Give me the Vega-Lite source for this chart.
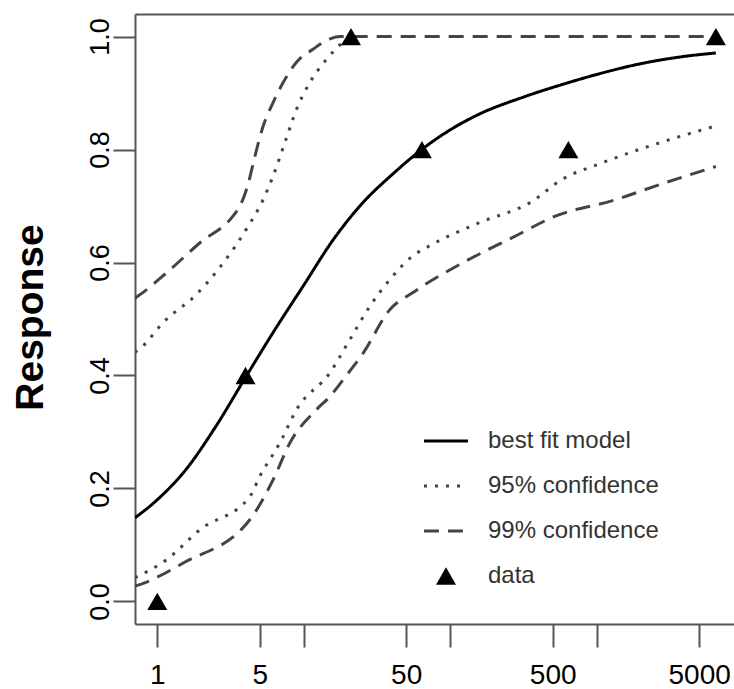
{
  "$schema": "https://vega.github.io/schema/vega-lite/v6.json",
  "width": 599,
  "height": 610,
  "autosize": {"type": "none"},
  "padding": {"left": 135, "top": 14, "right": 0, "bottom": 65},
  "background": "white",
  "config": {"view": {"stroke": null}, "font": "Liberation Sans"},
  "datasets": {
    "curves": [
      {"curve": "fit", "band": "best fit model", "x": 0.7045, "y": 0.148},
      {"curve": "fit", "band": "best fit model", "x": 1, "y": 0.18},
      {"curve": "fit", "band": "best fit model", "x": 1.585, "y": 0.235},
      {"curve": "fit", "band": "best fit model", "x": 2.512, "y": 0.31},
      {"curve": "fit", "band": "best fit model", "x": 4.074, "y": 0.4},
      {"curve": "fit", "band": "best fit model", "x": 6.31, "y": 0.48},
      {"curve": "fit", "band": "best fit model", "x": 10, "y": 0.56},
      {"curve": "fit", "band": "best fit model", "x": 15.85, "y": 0.64},
      {"curve": "fit", "band": "best fit model", "x": 25.12, "y": 0.705},
      {"curve": "fit", "band": "best fit model", "x": 39.81, "y": 0.755},
      {"curve": "fit", "band": "best fit model", "x": 63.8, "y": 0.8},
      {"curve": "fit", "band": "best fit model", "x": 100, "y": 0.835},
      {"curve": "fit", "band": "best fit model", "x": 158.5, "y": 0.863},
      {"curve": "fit", "band": "best fit model", "x": 316.2, "y": 0.893},
      {"curve": "fit", "band": "best fit model", "x": 631, "y": 0.918},
      {"curve": "fit", "band": "best fit model", "x": 1000, "y": 0.933},
      {"curve": "fit", "band": "best fit model", "x": 1995, "y": 0.952},
      {"curve": "fit", "band": "best fit model", "x": 3981, "y": 0.965},
      {"curve": "fit", "band": "best fit model", "x": 6500, "y": 0.971},

      {"curve": "u95", "band": "95% confidence", "x": 0.7045, "y": 0.441},
      {"curve": "u95", "band": "95% confidence", "x": 0.782, "y": 0.45},
      {"curve": "u95", "band": "95% confidence", "x": 1.099, "y": 0.494},
      {"curve": "u95", "band": "95% confidence", "x": 1.857, "y": 0.544},
      {"curve": "u95", "band": "95% confidence", "x": 2.609, "y": 0.588},
      {"curve": "u95", "band": "95% confidence", "x": 4.076, "y": 0.66},
      {"curve": "u95", "band": "95% confidence", "x": 5.291, "y": 0.712},
      {"curve": "u95", "band": "95% confidence", "x": 6.193, "y": 0.754},
      {"curve": "u95", "band": "95% confidence", "x": 7.443, "y": 0.813},
      {"curve": "u95", "band": "95% confidence", "x": 8.944, "y": 0.872},
      {"curve": "u95", "band": "95% confidence", "x": 11.02, "y": 0.919},
      {"curve": "u95", "band": "95% confidence", "x": 14.33, "y": 0.96},
      {"curve": "u95", "band": "95% confidence", "x": 18.61, "y": 0.99},
      {"curve": "u95", "band": "95% confidence", "x": 22.36, "y": 1.0},
      {"curve": "u95", "band": "95% confidence", "x": 25, "y": 1.0},

      {"curve": "l95", "band": "95% confidence", "x": 0.7045, "y": 0.042},
      {"curve": "l95", "band": "95% confidence", "x": 1.159, "y": 0.074},
      {"curve": "l95", "band": "95% confidence", "x": 1.956, "y": 0.127},
      {"curve": "l95", "band": "95% confidence", "x": 4.294, "y": 0.186},
      {"curve": "l95", "band": "95% confidence", "x": 5.023, "y": 0.222},
      {"curve": "l95", "band": "95% confidence", "x": 6.879, "y": 0.281},
      {"curve": "l95", "band": "95% confidence", "x": 8.944, "y": 0.34},
      {"curve": "l95", "band": "95% confidence", "x": 15.1, "y": 0.405},
      {"curve": "l95", "band": "95% confidence", "x": 20.68, "y": 0.464},
      {"curve": "l95", "band": "95% confidence", "x": 28.31, "y": 0.523},
      {"curve": "l95", "band": "95% confidence", "x": 38.76, "y": 0.57},
      {"curve": "l95", "band": "95% confidence", "x": 55.65, "y": 0.612},
      {"curve": "l95", "band": "95% confidence", "x": 72.67, "y": 0.63},
      {"curve": "l95", "band": "95% confidence", "x": 159.5, "y": 0.671},
      {"curve": "l95", "band": "95% confidence", "x": 349.9, "y": 0.706},
      {"curve": "l95", "band": "95% confidence", "x": 588, "y": 0.748},
      {"curve": "l95", "band": "95% confidence", "x": 1051, "y": 0.775},
      {"curve": "l95", "band": "95% confidence", "x": 6500, "y": 0.842},

      {"curve": "u99", "band": "99% confidence", "x": 0.7045, "y": 0.537},
      {"curve": "u99", "band": "99% confidence", "x": 0.742, "y": 0.541},
      {"curve": "u99", "band": "99% confidence", "x": 1.159, "y": 0.582},
      {"curve": "u99", "band": "99% confidence", "x": 1.956, "y": 0.635},
      {"curve": "u99", "band": "99% confidence", "x": 3.303, "y": 0.683},
      {"curve": "u99", "band": "99% confidence", "x": 3.668, "y": 0.7},
      {"curve": "u99", "band": "99% confidence", "x": 4.18, "y": 0.74},
      {"curve": "u99", "band": "99% confidence", "x": 4.645, "y": 0.789},
      {"curve": "u99", "band": "99% confidence", "x": 5.291, "y": 0.842},
      {"curve": "u99", "band": "99% confidence", "x": 6.193, "y": 0.884},
      {"curve": "u99", "band": "99% confidence", "x": 7.247, "y": 0.919},
      {"curve": "u99", "band": "99% confidence", "x": 8.944, "y": 0.955},
      {"curve": "u99", "band": "99% confidence", "x": 11.61, "y": 0.978},
      {"curve": "u99", "band": "99% confidence", "x": 15.1, "y": 0.996},
      {"curve": "u99", "band": "99% confidence", "x": 17.66, "y": 1.0},
      {"curve": "u99", "band": "99% confidence", "x": 6500, "y": 1.0},

      {"curve": "l99", "band": "99% confidence", "x": 0.7045, "y": 0.027},
      {"curve": "l99", "band": "99% confidence", "x": 0.802, "y": 0.032},
      {"curve": "l99", "band": "99% confidence", "x": 1.504, "y": 0.068},
      {"curve": "l99", "band": "99% confidence", "x": 4.294, "y": 0.145},
      {"curve": "l99", "band": "99% confidence", "x": 6.193, "y": 0.216},
      {"curve": "l99", "band": "99% confidence", "x": 8.05, "y": 0.281},
      {"curve": "l99", "band": "99% confidence", "x": 12.25, "y": 0.34},
      {"curve": "l99", "band": "99% confidence", "x": 15.1, "y": 0.363},
      {"curve": "l99", "band": "99% confidence", "x": 18.61, "y": 0.393},
      {"curve": "l99", "band": "99% confidence", "x": 25.48, "y": 0.44},
      {"curve": "l99", "band": "99% confidence", "x": 38.76, "y": 0.517},
      {"curve": "l99", "band": "99% confidence", "x": 55.65, "y": 0.547},
      {"curve": "l99", "band": "99% confidence", "x": 122.7, "y": 0.6},
      {"curve": "l99", "band": "99% confidence", "x": 269.2, "y": 0.645},
      {"curve": "l99", "band": "99% confidence", "x": 532.4, "y": 0.683},
      {"curve": "l99", "band": "99% confidence", "x": 1296, "y": 0.71},
      {"curve": "l99", "band": "99% confidence", "x": 2831, "y": 0.74},
      {"curve": "l99", "band": "99% confidence", "x": 6500, "y": 0.77}
    ],
    "pts": [
      {"x": 1, "y": 0.0},
      {"x": 4, "y": 0.4},
      {"x": 21, "y": 1.0},
      {"x": 64, "y": 0.8},
      {"x": 640, "y": 0.8},
      {"x": 6500, "y": 1.0}
    ]
  },
  "layer": [
    {
      "data": {"name": "curves"},
      "mark": {"type": "line", "strokeWidth": 3, "clip": true, "interpolate": "monotone"},
      "encoding": {
        "x": {
          "field": "x", "type": "quantitative",
          "scale": {"type": "log", "domain": [0.7045, 8642], "nice": false},
          "axis": {
            "orient": "bottom", "title": null, "grid": false,
            "values": [1, 5, 10, 50, 100, 500, 1000, 5000],
            "labelExpr": "(datum.value == 10 || datum.value == 100 || datum.value == 1000) ? '' : format(datum.value, 'd')",
            "labelOverlap": false, "labelFlush": false,
            "labelFontSize": 28, "labelColor": "#000", "labelBaseline": "alphabetic", "labelPadding": 36,
            "tickSize": 23, "tickWidth": 2, "tickColor": "#555",
            "domainColor": "#555", "domainWidth": 2
          }
        },
        "y": {
          "field": "y", "type": "quantitative",
          "scale": {"domain": [-0.04, 1.04], "nice": false, "zero": false},
          "axis": {
            "grid": false,
            "values": [0, 0.2, 0.4, 0.6, 0.8, 1.0],
            "format": ".1f",
            "labelAngle": 270, "labelAlign": "center", "labelBaseline": "alphabetic",
            "labelFontSize": 27, "labelColor": "#000", "labelPadding": 5,
            "tickSize": 22, "tickWidth": 2, "tickColor": "#555",
            "domainColor": "#555", "domainWidth": 2,
            "title": "Response", "titleFontSize": 39, "titleFontWeight": "bold", "titleColor": "#000",
            "titleAngle": 270, "titleX": -93, "titleY": 303, "titleAlign": "center", "titleBaseline": "alphabetic"
          }
        },
        "detail": {"field": "curve", "type": "nominal"},
        "color": {
          "field": "band", "type": "nominal",
          "scale": {"domain": ["best fit model", "95% confidence", "99% confidence", "data"], "range": ["#000000", "#444444", "#444444", "#000000"]},
          "legend": {
            "orient": "none", "legendX": 299, "legendY": 415, "title": null, "padding": 0,
            "labelFontSize": 24, "labelColor": "#333", "labelFont": "Liberation Sans", "labelOffset": 30, "labelLimit": 400,
            "symbolType": "stroke", "symbolSize": 1936, "symbolStrokeWidth": 3, "rowPadding": 21,
            "encode": {
              "symbols": {
                "update": {
                  "shape": {"signal": "datum.value === 'data' ? 'triangle-up' : 'stroke'"},
                  "size": {"signal": "datum.value === 'data' ? 400 : 1936"},
                  "fill": {"signal": "datum.value === 'data' ? '#000' : 'transparent'"},
                  "stroke": {"signal": "datum.value === 'best fit model' ? '#000' : (datum.value === 'data' ? 'transparent' : '#444')"},
                  "strokeWidth": {"signal": "datum.value === 'data' ? 0 : 3"}
                }
              }
            }
          }
        },
        "strokeDash": {
          "field": "band", "type": "nominal",
          "scale": {"domain": ["best fit model", "95% confidence", "99% confidence", "data"], "range": [[1, 0], [3, 8], [15, 9], [1, 0]]},
          "legend": {
            "orient": "none", "legendX": 299, "legendY": 415, "title": null, "padding": 0,
            "labelFontSize": 24, "labelColor": "#333", "labelFont": "Liberation Sans", "labelOffset": 30, "labelLimit": 400,
            "symbolType": "stroke", "symbolSize": 1936, "symbolStrokeWidth": 3, "rowPadding": 21,
            "encode": {
              "symbols": {
                "update": {
                  "shape": {"signal": "datum.value === 'data' ? 'triangle-up' : 'stroke'"},
                  "size": {"signal": "datum.value === 'data' ? 400 : 1936"},
                  "fill": {"signal": "datum.value === 'data' ? '#000' : 'transparent'"},
                  "stroke": {"signal": "datum.value === 'best fit model' ? '#000' : (datum.value === 'data' ? 'transparent' : '#444')"},
                  "strokeWidth": {"signal": "datum.value === 'data' ? 0 : 3"}
                }
              }
            }
          }
        }
      }
    },
    {
      "data": {"name": "pts"},
      "mark": {"type": "point", "shape": "triangle-up", "filled": true, "size": 400, "color": "#000", "opacity": 1},
      "encoding": {
        "x": {
          "field": "x", "type": "quantitative",
          "axis": {"orient": "top", "title": null, "labels": false, "ticks": false, "grid": false, "domain": true, "domainColor": "#555", "domainWidth": 2}
        },
        "y": {"field": "y", "type": "quantitative"}
      }
    }
  ],
  "resolve": {"axis": {"x": "independent"}}
}
